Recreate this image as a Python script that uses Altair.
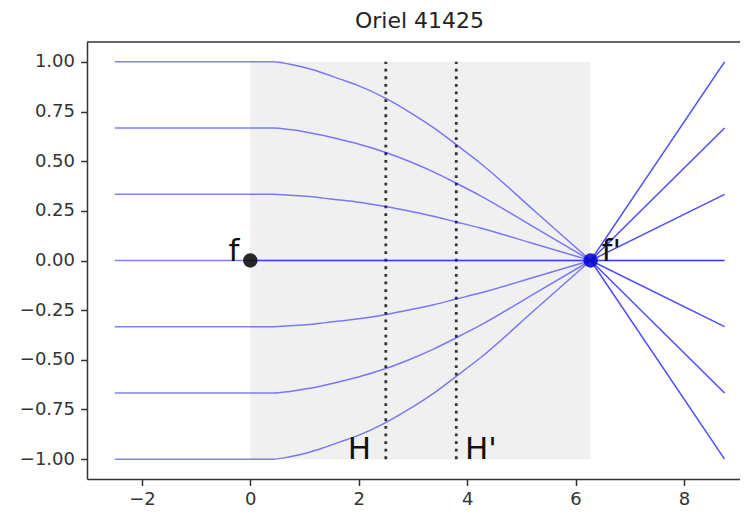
import altair as alt
import pandas as pd

# ---- data ----
title_text = "Oriel 41425"
x_in = [-2.5, 0.0, 0.42, 0.73, 1.04, 1.35, 1.66, 1.96, 2.5, 2.95, 3.38, 3.8, 4.24, 5.25, 6.28]
rays_in = {
    "p100": [1.0, 1.0, 1.0, 0.988, 0.969, 0.943, 0.913, 0.884, 0.816, 0.745, 0.669, 0.583, 0.491, 0.248, 0.0],
    "p067": [0.667, 0.667, 0.667, 0.659, 0.646, 0.629, 0.609, 0.589, 0.544, 0.497, 0.446, 0.389, 0.327, 0.165, 0.0],
    "p033": [0.333, 0.333, 0.333, 0.329, 0.323, 0.314, 0.304, 0.295, 0.272, 0.248, 0.223, 0.194, 0.164, 0.083, 0.0],
    "m033": [-0.333, -0.333, -0.333, -0.329, -0.323, -0.314, -0.304, -0.295, -0.272, -0.248, -0.223, -0.194, -0.164, -0.083, 0.0],
    "m067": [-0.667, -0.667, -0.667, -0.659, -0.646, -0.629, -0.609, -0.589, -0.544, -0.497, -0.446, -0.389, -0.327, -0.165, 0.0],
    "m100": [-1.0, -1.0, -1.0, -0.988, -0.969, -0.943, -0.913, -0.884, -0.816, -0.745, -0.669, -0.583, -0.491, -0.248, 0.0],
}
x_out = [6.28, 8.75]
rays_out = {
    "p100": [0.0, -1.0],
    "p067": [0.0, -0.667],
    "p033": [0.0, -0.333],
    "m033": [0.0, 0.333],
    "m067": [0.0, 0.667],
    "m100": [0.0, 1.0],
}
axis_ray_x = [-2.5, 8.75]
axis_ray_y = [0.0, 0.0]
axis_ray_inner_x = [0.0, 8.75]
axis_ray_inner_y = [0.0, 0.0]

lens_x = [0.0, 6.28]
lens_y = [-1.0, 1.0]
principal_x = [2.5, 3.8]
principal_y = [-1.0, 1.0]
focal_x = [0.0, 6.28]
focal_y = [0.0, 0.0]

label_text = ["f", "f'", "H", "H'"]
label_x = [-0.40, 6.48, 1.80, 3.96]
label_y = [0.0, 0.0, -1.0, -1.0]

x_ticks = [-2, 0, 2, 4, 6, 8]
y_ticks = [-1.0, -0.75, -0.5, -0.25, 0.0, 0.25, 0.5, 0.75, 1.0]

# ---- layout ----
W, H = 653, 437
X_DOM = [-3.013, 9.035]
Y_DOM = [-1.1, 1.1]
FONT = "DejaVu Sans"

xs = alt.Scale(domain=X_DOM, nice=False, zero=False)
ys = alt.Scale(domain=Y_DOM, nice=False, zero=False)

rows_in = []
for k, ys_ in rays_in.items():
    for i, (xv, yv) in enumerate(zip(x_in, ys_)):
        rows_in.append({"ray": k, "x": xv, "y": yv, "o": i})
df_in = pd.DataFrame(rows_in)

rows_out = []
for k, ys_ in rays_out.items():
    for i, (xv, yv) in enumerate(zip(x_out, ys_)):
        rows_out.append({"ray": k, "x": xv, "y": yv, "o": i})
df_out = pd.DataFrame(rows_out)

df_axis = pd.DataFrame({"x": axis_ray_x + axis_ray_inner_x,
                        "y": axis_ray_y + axis_ray_inner_y,
                        "ray": ["a", "a", "b", "b"], "o": [0, 1, 0, 1]})

df_lens = pd.DataFrame({"x": [lens_x[0]], "x2": [lens_x[1]], "y": [lens_y[0]], "y2": [lens_y[1]]})
df_pp = pd.DataFrame({"x": principal_x, "y": [principal_y[0]] * 2, "y2": [principal_y[1]] * 2})
df_f = pd.DataFrame({"x": focal_x, "y": focal_y, "c": ["#111111", "#0a0ad0"]})
df_lab = pd.DataFrame({"t": label_text, "x": label_x, "y": label_y})

xaxis = alt.Axis(values=x_ticks, format="d", title=None, grid=False)
yaxis = alt.Axis(values=y_ticks, format=".2f", title=None, grid=False)

lens = alt.Chart(df_lens).mark_rect(color="#f0f0f0").encode(
    x=alt.X("x:Q", scale=xs, axis=xaxis), x2="x2:Q",
    y=alt.Y("y:Q", scale=ys, axis=yaxis), y2="y2:Q")

pp = alt.Chart(df_pp).mark_rule(color="#333333", strokeWidth=2.8, strokeDash=[2.8, 4.8]).encode(
    x=alt.X("x:Q", scale=xs), y=alt.Y("y:Q", scale=ys), y2="y2:Q")

lines_in = alt.Chart(df_in).mark_line(color="blue", opacity=0.5, strokeWidth=1.5,
                                      interpolate="monotone").encode(
    x=alt.X("x:Q", scale=xs), y=alt.Y("y:Q", scale=ys), detail="ray:N", order="o:Q")

lines_out = alt.Chart(df_out).mark_line(color="blue", opacity=0.7, strokeWidth=1.5).encode(
    x=alt.X("x:Q", scale=xs), y=alt.Y("y:Q", scale=ys), detail="ray:N", order="o:Q")

lines_axis = alt.Chart(df_axis).mark_line(color="blue", opacity=0.5, strokeWidth=1.5).encode(
    x=alt.X("x:Q", scale=xs), y=alt.Y("y:Q", scale=ys), detail="ray:N", order="o:Q")

foc = alt.Chart(df_f).mark_point(filled=True, size=210, opacity=0.9).encode(
    x=alt.X("x:Q", scale=xs), y=alt.Y("y:Q", scale=ys), color=alt.Color("c:N", scale=None))

labs = alt.Chart(df_lab).mark_text(font=FONT, fontSize=31, align="left", baseline="alphabetic",
                                   color="#111111").encode(
    x=alt.X("x:Q", scale=xs), y=alt.Y("y:Q", scale=ys), text="t:N")

top_spine = alt.Chart(df_lens).mark_rule(color="#333333", strokeWidth=1.5).encode(
    x=alt.value(0), x2=alt.value(W), y=alt.value(0))

chart = alt.layer(lens, pp, lines_in, lines_axis, lines_out, foc, labs, top_spine).properties(
    width=W, height=H,
    autosize=alt.AutoSizeParams(type="none"),
    padding={"left": 79, "top": 34, "right": 0, "bottom": 30},
    title=alt.TitleParams(title_text, font=FONT, fontSize=22, fontWeight="normal",
                          color="#222222", offset=8, dx=6),
).configure_view(stroke=None).configure_axis(
    labelFont=FONT, labelFontSize=18, labelColor="#333333",
    domainColor="#333333", domainWidth=1.5,
    tickColor="#333333", tickWidth=1.5, tickSize=6.5,
    labelPadding=5,
).configure_axisY(labelPadding=6)

chart.save("out.html", embed_options={"renderer": "svg", "actions": False})
